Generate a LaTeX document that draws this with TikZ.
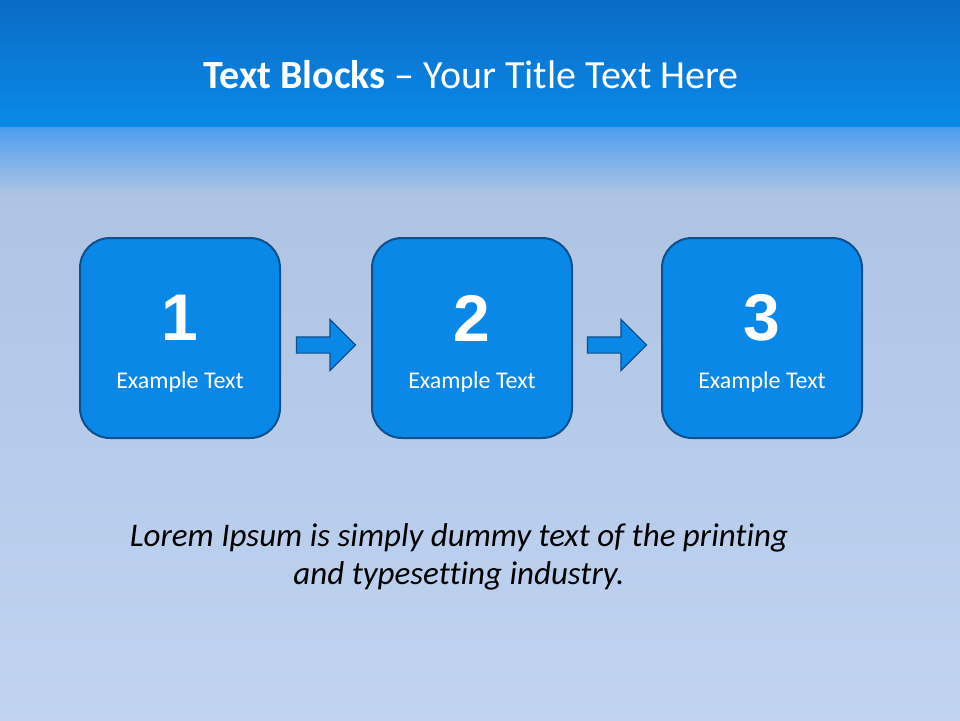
\documentclass[tikz,border=0pt]{standalone}
\usepackage{fontspec}
\setmainfont{Carlito}[Ligatures={NoCommon}]
\newfontfamily\numfont{Liberation Sans}
\usetikzlibrary{positioning,calc,shapes.arrows}

\definecolor{barTop}{HTML}{0A6CC4}
\definecolor{barBot}{HTML}{0A89E9}
\definecolor{bgEdge}{HTML}{4A9CF0}
\definecolor{bgMid}{HTML}{AEC4E2}
\definecolor{bgLow}{HTML}{C0D4F2}
\definecolor{blockFill}{HTML}{0A88E8}
\definecolor{blockLine}{HTML}{0E4F8C}

\tikzset{
  numblock/.style={draw=blockLine, line width=2pt, fill=blockFill,
    rounded corners=30pt, minimum width=200pt, minimum height=200pt},
  blockarrow/.style={single arrow, draw=blockLine, line width=1.2pt, fill=blockFill,
    inner sep=0pt, inner ysep=7.5pt, minimum height=59pt,
    single arrow head extend=17.5pt, single arrow tip angle=90},
  bignum/.style={text=white, font=\numfont\bfseries\fontsize{66}{66}\selectfont},
  smalltext/.style={text=white, font=\fontsize{24}{28}\selectfont},
}

\begin{document}
\begin{tikzpicture}[x=1pt, y=-1pt]
  \useasboundingbox (0,0) rectangle (960,720);

  % background and title bar
  \shade[top color=bgEdge, bottom color=bgMid] (0,125) rectangle (960,195);
  \shade[top color=bgMid, bottom color=bgLow] (0,195) rectangle (960,720);
  \shade[top color=barTop, bottom color=barBot] (0,0) rectangle (960,126);
  \node[text=white, font=\fontsize{40}{44}\selectfont] (title) at (471,75)
    {\textbf{Text Blocks} -- Your Title Text Here};

  % the three blocks
  \node[numblock] (box1) at (180,338) {};
  \node[numblock] (box2) at (472,338) {};
  \node[numblock] (box3) at (762,338) {};
  \foreach \i in {1,2,3} {
    \node[bignum] (num\i) at ($(box\i.center)+(0,-20)$) {\i};
    \node[smalltext] (lbl\i) at ($(box\i.center)+(0,44)$) {Example Text};
  }

  % arrows between the blocks
  \node[blockarrow] (arr1) at ($(box1.east)!0.5!(box2.west)+(-4,7)$) {};
  \node[blockarrow] (arr2) at ($(box2.east)!0.5!(box3.west)+(-4,7)$) {};

  % caption
  \node[font=\itshape\fontsize{33}{38}\selectfont, align=center] (caption) at (459,557)
    {Lorem Ipsum is simply dummy text of the printing\\and typesetting industry.};
\end{tikzpicture}
\end{document}
